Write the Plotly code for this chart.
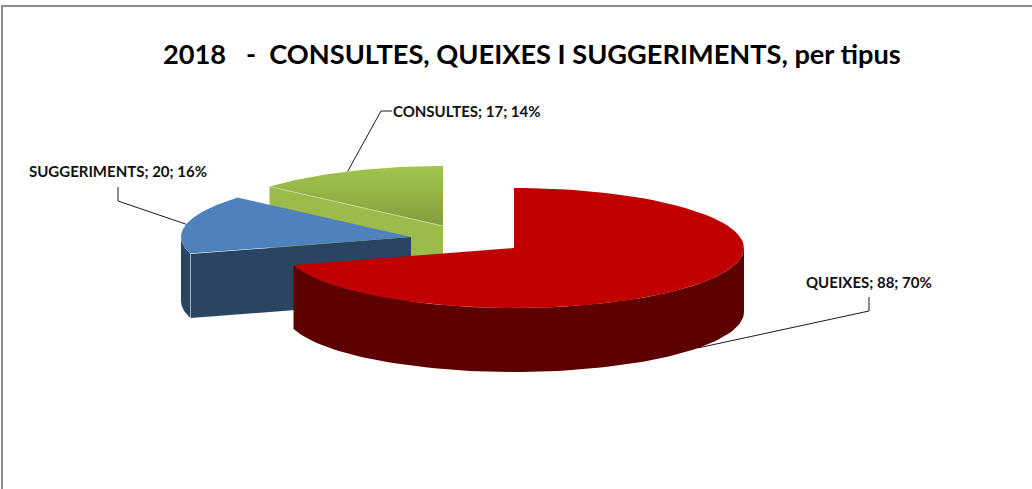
import numpy as np
import plotly.graph_objects as go

# Data
categories = ["QUEIXES", "SUGGERIMENTS", "CONSULTES"]
values = [88, 20, 17]
percent_labels = ["70%", "16%", "14%"]
title_text = "2018   -  CONSULTES, QUEIXES I SUGGERIMENTS, per tipus"

W, H = 1032, 489
RX, RY, DEPTH = 230, 60, 64
centers = {"QUEIXES": (514, 248), "SUGGERIMENTS": (411, 237), "CONSULTES": (443, 226)}
style = {
    "QUEIXES": dict(top="#c00000", wall="#5c0000", face="#5c0000"),
    "SUGGERIMENTS": dict(top="#4f81bd", wall="#2a4462", face="#2a4462"),
    "CONSULTES": dict(top=None, wall="#9bbb4a", face="#9bbb4a"),
}
label_pos = {
    "QUEIXES": dict(x=869, y=282, elbow=[(869, 311), (869, 297)]),
    "SUGGERIMENTS": dict(x=118, y=171, elbow=[(118, 201), (118, 187)]),
    "CONSULTES": dict(x=467, y=111, elbow=[(381, 111), (392, 111)]),
}

total = sum(values)
spans = [v / total * 2 * np.pi for v in values]
starts = np.concatenate([[0], np.cumsum(spans)[:-1]])


def pt(c, a, dz=0):
    return c[0] + RX * np.sin(a), c[1] - RY * np.cos(a) + dz


def arc(c, a0, a1, dz=0, n=90):
    t = np.linspace(a0, a1, n)
    return c[0] + RX * np.sin(t), c[1] - RY * np.cos(t) + dz


fig = go.Figure()


def poly(xs, ys, color=None, grad=None, line=None):
    kw = dict(x=list(xs), y=list(ys), mode="lines", fill="toself", hoverinfo="skip", showlegend=False)
    if grad is not None:
        kw["fillgradient"] = grad
        kw["fillcolor"] = None
    else:
        kw["fillcolor"] = color
    kw["line"] = dict(width=1 if line else 0, color=line or "rgba(0,0,0,0)")
    fig.add_trace(go.Scatter(**kw))


geom = {}
for name, a0, sp in zip(categories, starts, spans):
    geom[name] = (centers[name], a0, a0 + sp)

for name in ["CONSULTES", "SUGGERIMENTS", "QUEIXES"]:
    c, a0, a1 = geom[name]
    st = style[name]
    # cut face at the slice's leading radial edge
    px, py = pt(c, a0)
    poly([px, c[0], c[0], px, px], [py, c[1], c[1] + DEPTH, py + DEPTH, py], st["face"])
    # outer wall: only the part of the arc facing the viewer (90 to 270 degrees)
    w0, w1 = max(a0, np.pi / 2), min(a1, 3 * np.pi / 2)
    if w1 > w0:
        tx, ty = arc(c, w0, w1)
        bx, by = arc(c, w1, w0, DEPTH)
        poly(np.r_[tx, bx, tx[0]], np.r_[ty, by, ty[0]], st["wall"])
    # top surface
    ax, ay = arc(c, a0, a1)
    xs, ys = np.r_[c[0], ax, c[0]], np.r_[c[1], ay, c[1]]
    if st["top"]:
        poly(xs, ys, st["top"])
    else:
        poly(xs, ys, grad=dict(type="vertical",
                               colorscale=[[0, "#7f9c3c"], [0.45, "#92b044"], [1, "#9fc64c"]]))

# thin light edges on the blue and green slices
c, a0, a1 = geom["SUGGERIMENTS"]
px, py = pt(c, a0)
fig.add_trace(go.Scatter(x=[px, px], y=[py, py + DEPTH], mode="lines", hoverinfo="skip", showlegend=False,
                         line=dict(color="#9fb0c4", width=1)))
c, a0, a1 = geom["CONSULTES"]
px, py = pt(c, a0)
fig.add_trace(go.Scatter(x=[px, c[0]], y=[py, c[1]], mode="lines", hoverinfo="skip", showlegend=False,
                         line=dict(color="#c4d896", width=1)))

# leader lines anchored at each slice's mid-angle
for name, v, pct in zip(categories, values, percent_labels):
    c, a0, a1 = geom[name]
    mid = (a0 + a1) / 2
    ox, oy = pt(c, mid, DEPTH if name == "QUEIXES" else 0)
    e = label_pos[name]["elbow"]
    fig.add_trace(go.Scatter(x=[ox] + [p[0] for p in e], y=[oy] + [p[1] for p in e], mode="lines",
                             hoverinfo="skip", showlegend=False, line=dict(color="#1a1a1a", width=1)))
    fig.add_annotation(x=label_pos[name]["x"], y=label_pos[name]["y"], xref="x", yref="y",
                       text=f"<b>{name}; {v}; {pct}</b>", showarrow=False,
                       font=dict(family="Lato, Carlito, sans-serif", size=15, color="#111111"))

fig.add_annotation(x=531.5, y=53, xref="x", yref="y",
                   text="<b>" + title_text.replace("   ", "&nbsp;&nbsp; ").replace("  ", "&nbsp; ") + "</b>",
                   showarrow=False, font=dict(family="Lato, Carlito, sans-serif", size=27.2, color="#000000"))

# chart frame
fig.add_shape(type="rect", x0=2, y0=6, x1=1200, y1=700, xref="x", yref="y",
              line=dict(color="#8c8c8c", width=2), fillcolor="rgba(0,0,0,0)")

fig.update_layout(
    width=W, height=H, autosize=False, margin=dict(l=0, r=0, t=0, b=0),
    paper_bgcolor="white", plot_bgcolor="white", showlegend=False,
    xaxis=dict(range=[0, W], visible=False, fixedrange=True),
    yaxis=dict(range=[H, 0], visible=False, fixedrange=True),
)
fig.write_html("out.html", config=dict(displayModeBar=False),
               post_script="document.body.style.margin='0';document.documentElement.style.overflow='hidden';")
